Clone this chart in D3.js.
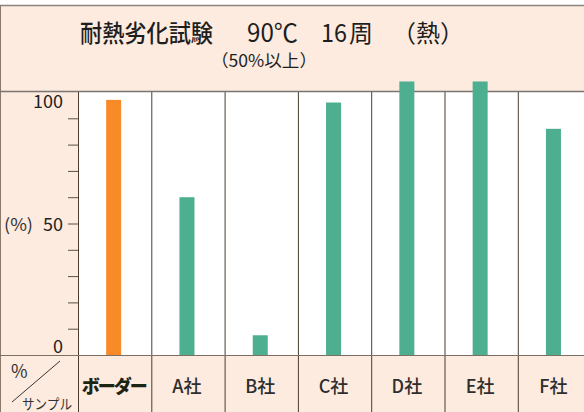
<!DOCTYPE html>
<html><head><meta charset="utf-8">
<script src="https://cdn.jsdelivr.net/npm/d3@7"></script>
<style>
html,body{margin:0;padding:0;background:#fff;}
svg{display:block;}
text{font-family:"Noto Sans CJK JP","Noto Sans",sans-serif;}
</style></head><body>
<svg id="c" width="584" height="412"></svg>
<script>
const categories = ["ボーダー","A社","B社","C社","D社","E社","F社"];
const values = [97, 60, 7.5, 96, 104, 104, 86];
const barColors = ["#f98a28","#4dae90","#4dae90","#4dae90","#4dae90","#4dae90","#4dae90"];
const yLabels = [0, 50, 100];
const minorTicks = [10,20,30,40,50,60,70,80,90];

(function(){
const svg = d3.select("#c");
const W = 584, H = 412;
const pLeft = 78, colW = 73.3, pTop = 92, pBottom = 355;

svg.append("rect").attr("x",0).attr("y",5).attr("width",W).attr("height",H-5).attr("fill","#fdebdf");
svg.append("line").attr("x1",0).attr("x2",W).attr("y1",5.5).attr("y2",5.5).attr("stroke","#8a8580").attr("stroke-width",1.5);
svg.append("line").attr("x1",0.5).attr("x2",0.5).attr("y1",5).attr("y2",H).attr("stroke","#8a7a6a").attr("stroke-width",1);

const x = d3.scaleBand().domain(categories).range([pLeft, pLeft + colW*categories.length]).paddingInner(0).paddingOuter(0);
const y = d3.scaleLinear().domain([0,100]).range([pBottom, pTop]);

svg.append("rect").attr("x",pLeft).attr("y",pTop).attr("width",W-pLeft).attr("height",pBottom-pTop).attr("fill","#ffffff");

const tg = svg.append("g").attr("fill","#1e1e1e");
tg.append("text").attr("x",80).attr("y",42).attr("font-size",24).attr("font-weight",500).attr("textLength",133).attr("lengthAdjust","spacingAndGlyphs").text("耐熱劣化試験");
tg.append("text").attr("x",247).attr("y",42).attr("font-size",25).attr("font-family","Liberation Sans, Arial, sans-serif").attr("textLength",51).attr("lengthAdjust","spacingAndGlyphs").text("90℃");
tg.append("text").attr("x",321).attr("y",42).attr("font-size",25).attr("font-family","Liberation Sans, Arial, sans-serif").attr("textLength",26).attr("lengthAdjust","spacingAndGlyphs").text("16");
tg.append("text").attr("x",349).attr("y",42).attr("font-size",24).text("周");
tg.append("text").attr("x",392).attr("y",42).attr("font-size",24).text("（熱）");
tg.append("text").attr("x",211).attr("y",66.5).attr("font-size",17).attr("textLength",106).attr("lengthAdjust","spacingAndGlyphs").text("（50%以上）");

svg.append("g").selectAll("line").data(categories).join("line")
  .attr("x1",d=>x(d)+0.5).attr("x2",d=>x(d)+0.5).attr("y1",pTop).attr("y2",H)
  .attr("stroke","#4a3c30").attr("stroke-width",1);

svg.append("line").attr("x1",0).attr("x2",W).attr("y1",pTop-0.5).attr("y2",pTop-0.5).attr("stroke","#7a7570").attr("stroke-width",1.5);
svg.append("line").attr("x1",0).attr("x2",W).attr("y1",pBottom+0.5).attr("y2",pBottom+0.5).attr("stroke","#7a7068").attr("stroke-width",1);

const bw = 15;
svg.append("g").selectAll("rect").data(categories).join("rect")
  .attr("x",(d)=>x(d)+x.bandwidth()/2 - bw/2 - 1)
  .attr("y",(d,i)=>y(values[i]))
  .attr("width",bw)
  .attr("height",(d,i)=>pBottom - y(values[i]))
  .attr("fill",(d,i)=>barColors[i]);

const axis = d3.axisLeft(y).tickValues(minorTicks).tickSize(10).tickFormat("");
const ag = svg.append("g").attr("transform",`translate(${pLeft},0)`).call(axis);
ag.select(".domain").remove();
ag.selectAll(".tick line").attr("stroke","#5a5048");

const offs = {0:-2, 50:7, 100:16};
svg.append("g").selectAll("text").data(yLabels).join("text")
  .attr("x",63).attr("y",d=>y(d)+offs[d]).attr("text-anchor","end")
  .attr("font-size",18).attr("font-family","Liberation Sans, Arial, sans-serif").attr("fill","#222").text(d=>d);
svg.append("text").attr("x",4).attr("y",231).attr("font-size",17).attr("fill","#333").attr("textLength",29).attr("lengthAdjust","spacingAndGlyphs").text("(%)");

svg.append("g").selectAll("text").data(categories).join("text")
  .attr("x",d=>x(d)+x.bandwidth()/2 - 1).attr("y",393).attr("text-anchor","middle")
  .attr("font-size",18)
  .attr("font-weight",(d,i)=>i===0?900:500)
  .attr("fill",(d,i)=>i===0?"#1c2414":"#2e2e2e")
  .attr("letter-spacing",(d,i)=>i===0?-2:0)
  .text(d=>d);

svg.append("line").attr("x1",12).attr("y1",402).attr("x2",60).attr("y2",361).attr("stroke","#333").attr("stroke-width",1);
svg.append("text").attr("x",11).attr("y",378).attr("font-size",18).attr("fill","#333").text("%");
svg.append("text").attr("x",22).attr("y",409).attr("font-size",14).attr("fill","#333").attr("textLength",50).attr("lengthAdjust","spacingAndGlyphs").text("サンプル");
})();
</script>
</body></html>
